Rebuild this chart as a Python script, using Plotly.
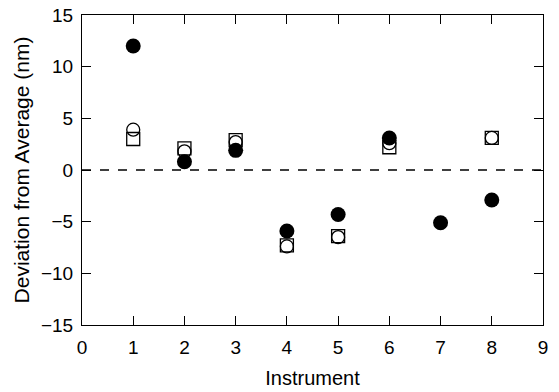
import plotly.graph_objects as go

instruments = [1, 2, 3, 4, 5, 6, 7, 8]
filled_circle = [12.0, 0.8, 1.9, -5.9, -4.3, 3.1, -5.1, -2.9]
open_x = [1, 2, 3, 4, 5, 6, 8]
open_circle = [3.9, 1.8, 2.7, -7.4, -6.5, 2.6, 3.1]
open_square = [3.0, 2.1, 2.9, -7.3, -6.4, 2.2, 3.1]

x_ticks = list(range(0, 10))
y_ticks = list(range(-15, 20, 5))

FONT = "Liberation Sans, Arial"

fig = go.Figure()
fig.add_trace(go.Scatter(
    x=open_x, y=open_circle, mode="markers",
    marker=dict(symbol="circle-open", size=13, color="black", line=dict(width=1.3)),
))
fig.add_trace(go.Scatter(
    x=open_x, y=open_square, mode="markers",
    marker=dict(symbol="square-open", size=13, color="black", line=dict(width=1.3)),
))
fig.add_trace(go.Scatter(
    x=instruments, y=filled_circle, mode="markers",
    marker=dict(symbol="circle", size=15, color="black"),
))

fig.add_shape(type="line", xref="paper", yref="y", x0=0, x1=1, y0=0, y1=0,
              line=dict(color="black", width=1.4, dash="dash"))

axis_common = dict(
    showline=True, linecolor="black", linewidth=1, mirror="allticks",
    ticks="inside", ticklen=9, tickwidth=1, tickcolor="black",
    showgrid=False, zeroline=False, automargin=False,
    tickfont=dict(family=FONT, size=19, color="black"),
)

fig.update_layout(
    width=559, height=392,
    margin=dict(l=82, r=16, t=15, b=67),
    paper_bgcolor="white", plot_bgcolor="white",
    showlegend=False,
    xaxis=dict(range=[0, 9], tickvals=x_ticks,
               title=dict(text="Instrument", standoff=14,
                          font=dict(family=FONT, size=20, color="black")),
               ticklabelstandoff=5,
               **axis_common),
    yaxis=dict(range=[-15, 15], tickvals=y_ticks,
               title=dict(text="Deviation from Average (nm)", standoff=5,
                          font=dict(family=FONT, size=21, color="black")),
               ticklabelstandoff=4,
               **axis_common),
)

fig.write_html("out.html", config={"displayModeBar": False},
               post_script="document.body.style.margin='0';document.body.style.padding='0';")
